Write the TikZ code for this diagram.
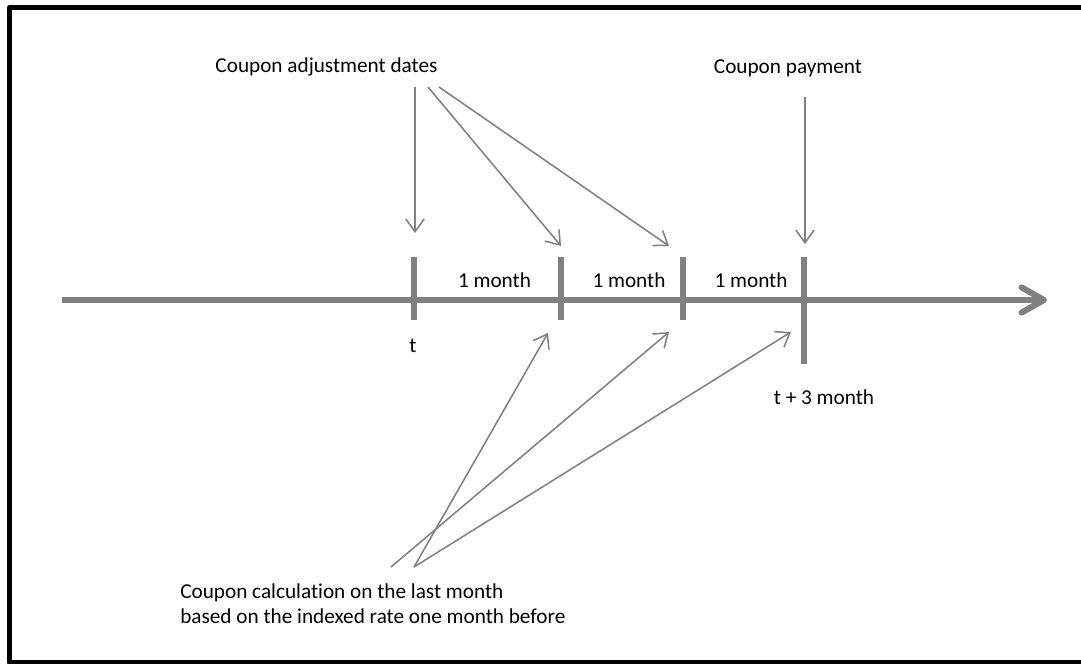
\documentclass[tikz,border=0pt]{standalone}
\usepackage{fontspec}
\setmainfont{Carlito}[Ligatures=NoCommon]
\usetikzlibrary{arrows.meta}

\definecolor{linegray}{RGB}{128,128,128}

\begin{document}
\begin{tikzpicture}[x=0.025cm,y=-0.025cm,font=\fontsize{15.1}{18.4}\selectfont,
  ptr/.style={draw=linegray,line width=1.1pt,-{Straight Barb[length=9pt,width=13pt]}},
  tickmark/.style={draw=linegray,line width=3.6pt}]
\useasboundingbox (0,0) rectangle (1081,664);
\draw[line width=3.3pt,line join=round] (9.5,7.5) rectangle (1100,662.5);

% time axis and month ticks
\coordinate (a0) at (62,300);
\coordinate (a1) at (1047,300);
\draw[linegray,line width=4.3pt,-{Straight Barb[length=16pt,width=18pt,round]}] (a0) -- (a1);
\foreach \n/\x/\b in {t0/414/320,t1/561/320,t2/683/320,t3/804/364} {
  \coordinate (\n top) at (\x,257); \coordinate (\n bot) at (\x,\b);
  \draw[tickmark] (\n top) -- (\n bot);
}
\foreach \i/\x in {1/494.5,2/629,3/751} \node[anchor=base] (m\i) at (\x,287) {1 month};
\node[anchor=base] (tlab) at (413,352) {t};
\node[anchor=base] (t3lab) at (824,404) {t + 3 month};

% labels on top
\node[anchor=base] (adj) at (326.5,72) {Coupon adjustment dates};
\node[anchor=base] (pay) at (788,73) {Coupon payment};
\coordinate (adj0) at (415,87);  \coordinate (adj1) at (428,87);  \coordinate (adj2) at (439,87);
\coordinate (in0) at (415,233);  \coordinate (in1) at (561,246);  \coordinate (in2) at (669,246);
\coordinate (pay0) at (805,97);  \coordinate (in3) at (805,244);
\draw[ptr] (adj0) -- (in0);
\draw[ptr] (adj1) -- (in1);
\draw[ptr] (adj2) -- (in2);
\draw[ptr] (pay0) -- (in3);

% label below
\node[anchor=north west,align=left,inner sep=0pt] (calc) at (180,583)
  {Coupon calculation on the last month\\based on the indexed rate one month before};
\coordinate (c0) at (414,567);  \coordinate (c1) at (391,567);
\coordinate (up1) at (548,333); \coordinate (up2) at (669,332); \coordinate (up3) at (791,332);
\draw[ptr] (c0) -- (up1);
\draw[ptr] (c1) -- (up2);
\draw[ptr] (c0) -- (up3);
\end{tikzpicture}
\end{document}
